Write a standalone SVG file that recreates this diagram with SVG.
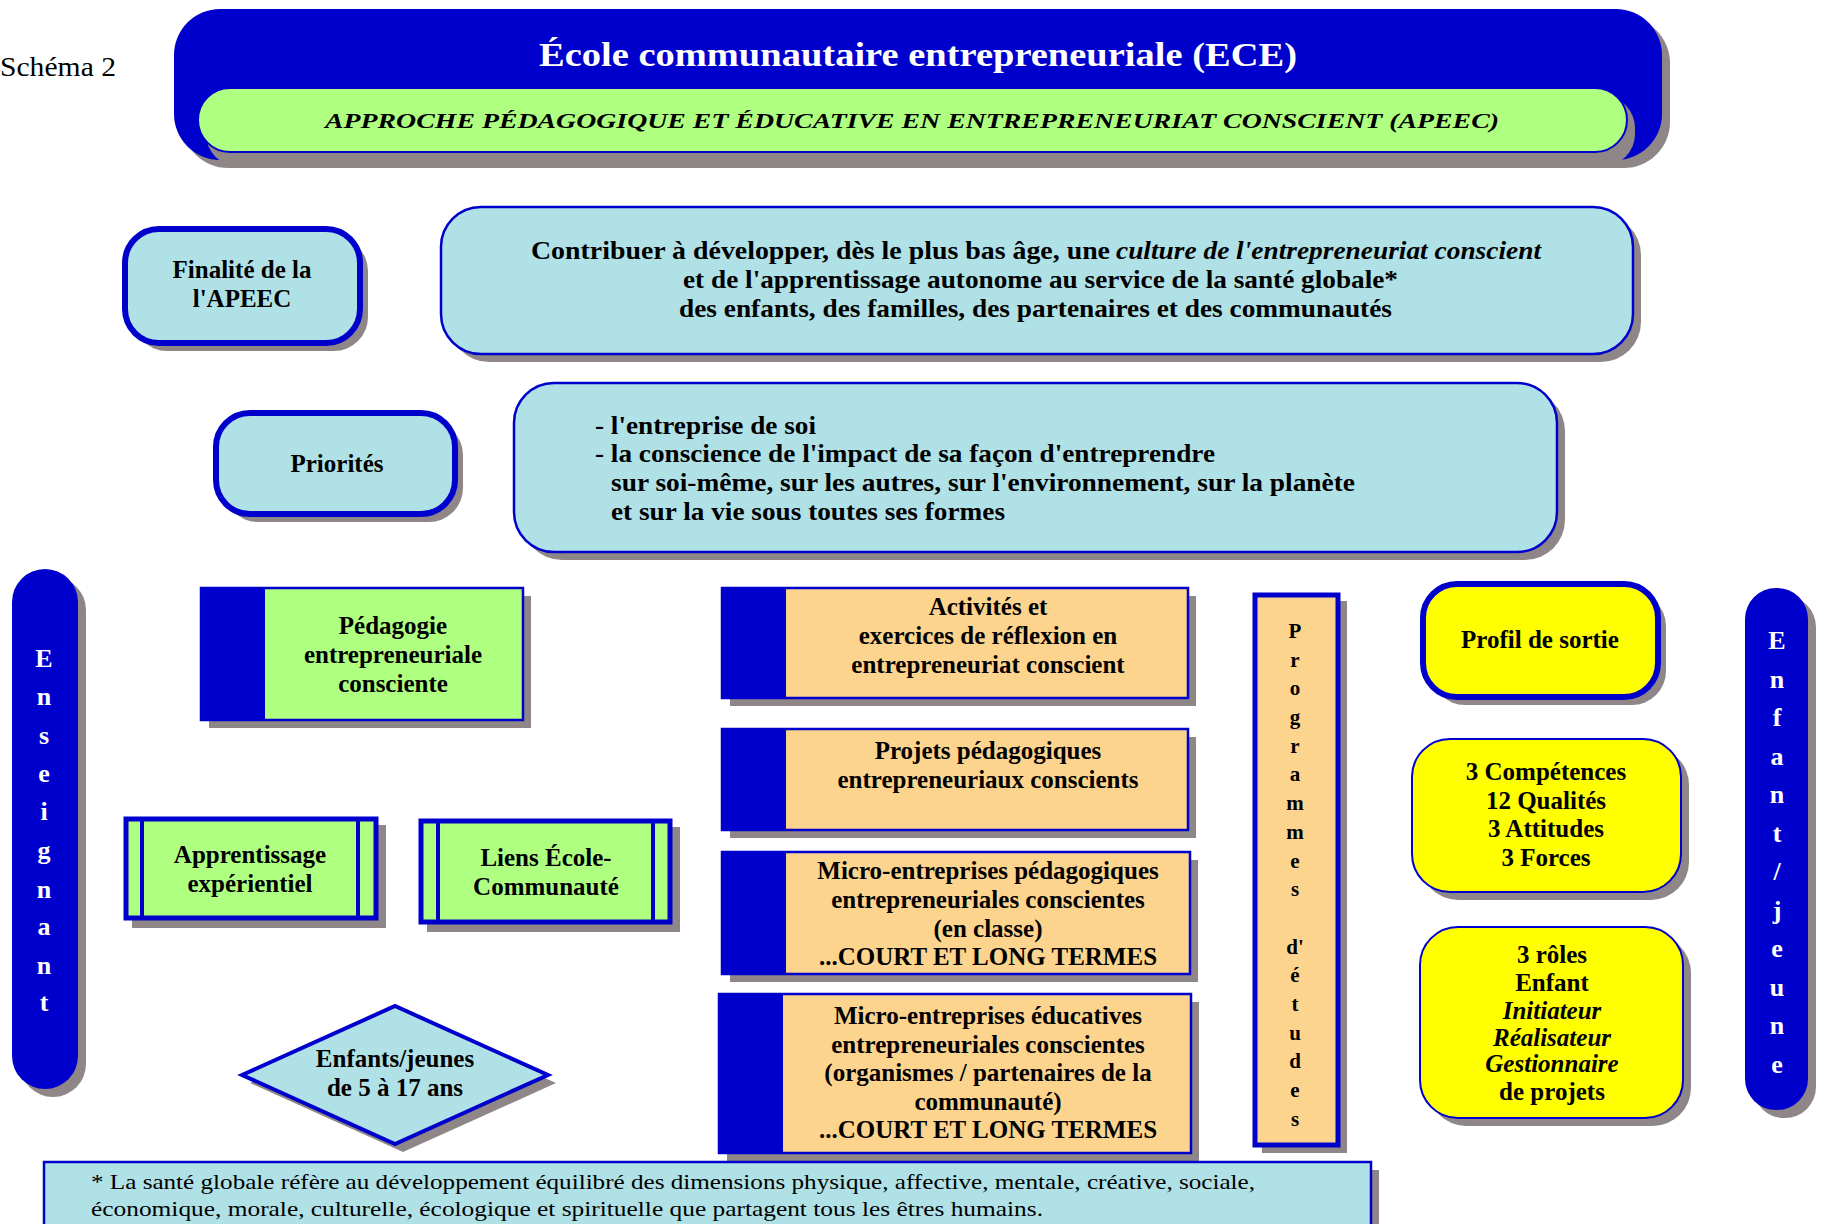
<svg xmlns="http://www.w3.org/2000/svg" width="1822" height="1224" viewBox="0 0 1822 1224">
<style>
.sh{fill:#8f8787}
.bl{fill:#0000cc}
.pb{fill:#b0e1e6;stroke:#0000cc}
.gr{fill:#afff80;stroke:#0000cc}
.pe{fill:#fdd48e;stroke:#0000cc;stroke-width:2.5}
.ye{fill:#ffff00;stroke:#0000cc}
.thick{stroke-width:6}
.thin{stroke-width:2.5}
text{font-family:"Liberation Serif",serif;font-weight:bold;font-size:25px;fill:#000}
.c{text-anchor:middle}
.w{fill:#fff}
.it{font-style:italic}
.vl{font-size:26px;fill:#fff;text-anchor:middle}
.vp{font-size:21px;text-anchor:middle}
.n{font-weight:normal;font-size:22px}
</style>
<rect width="1822" height="1224" fill="#fff"/>
<text x="0" y="76" style="font-weight:normal;font-size:28px" textLength="116" lengthAdjust="spacingAndGlyphs">Schéma 2</text>

<g id="header">
<rect class="sh" x="182" y="17" width="1488" height="151" rx="46"/>
<rect class="bl" x="174" y="9" width="1488" height="151" rx="46"/>
<rect class="sh" x="206" y="96" width="1429" height="70" rx="32"/>
<rect fill="#afff80" stroke="#0000cc" stroke-width="2" x="198" y="88" width="1429" height="64" rx="32"/>
<text class="c w" x="918" y="66" style="font-size:34px" textLength="758" lengthAdjust="spacingAndGlyphs">École communautaire entrepreneuriale (ECE)</text>
<text class="c it" x="912" y="128" style="font-size:22px" textLength="1174" lengthAdjust="spacingAndGlyphs">APPROCHE PÉDAGOGIQUE  ET ÉDUCATIVE EN ENTREPRENEURIAT  CONSCIENT (APEEC)</text>
</g>

<g id="finalite">
<rect class="sh" x="133" y="237" width="235" height="114" rx="34"/>
<rect class="pb thick" x="125" y="229" width="235" height="114" rx="34"/>
<text class="c" x="242" y="278">Finalité de la</text>
<text class="c" x="242" y="307">l'APEEC</text>
</g>

<g id="contribuer">
<rect class="sh" x="449" y="215" width="1192" height="147" rx="40"/>
<rect class="pb thin" x="441" y="207" width="1192" height="147" rx="40"/>
<text x="531" y="259" textLength="579" lengthAdjust="spacingAndGlyphs">Contribuer à développer, dès le plus bas âge, une</text>
<text class="it" x="1116" y="259" textLength="425" lengthAdjust="spacingAndGlyphs">culture de l'entrepreneuriat conscient</text>
<text x="683" y="288" textLength="715" lengthAdjust="spacingAndGlyphs">et de l'apprentissage autonome au service de la santé globale*</text>
<text x="679" y="317" textLength="713" lengthAdjust="spacingAndGlyphs">des enfants, des familles, des partenaires et des communautés</text>
</g>

<g id="priorites">
<rect class="sh" x="224" y="421" width="239" height="101" rx="34"/>
<rect class="pb thick" x="216" y="413" width="239" height="101" rx="34"/>
<text class="c" x="337" y="472">Priorités</text>
</g>

<g id="priorites-texte">
<rect class="sh" x="522" y="391" width="1043" height="169" rx="40"/>
<rect class="pb thin" x="514" y="383" width="1043" height="169" rx="40"/>
<text x="595" y="434" textLength="221" lengthAdjust="spacingAndGlyphs">- l'entreprise de soi</text>
<text x="595" y="462" textLength="620" lengthAdjust="spacingAndGlyphs">- la conscience de l'impact de sa façon d'entreprendre</text>
<text x="611" y="491" textLength="744" lengthAdjust="spacingAndGlyphs">sur soi-même, sur les autres, sur l'environnement, sur la planète</text>
<text x="611" y="520" textLength="394" lengthAdjust="spacingAndGlyphs">et sur la vie sous toutes ses formes</text>
</g>

<g id="enseignant">
<rect class="sh" x="20" y="577" width="66" height="520" rx="33"/>
<rect class="bl" x="12" y="569" width="66" height="520" rx="33"/>
<text class="vl" x="44" y="667">E</text>
<text class="vl" x="44" y="705">n</text>
<text class="vl" x="44" y="744">s</text>
<text class="vl" x="44" y="782">e</text>
<text class="vl" x="44" y="820">i</text>
<text class="vl" x="44" y="859">g</text>
<text class="vl" x="44" y="898">n</text>
<text class="vl" x="44" y="935">a</text>
<text class="vl" x="44" y="974">n</text>
<text class="vl" x="44" y="1011">t</text>
</g>

<g id="pedagogie">
<rect class="sh" x="209" y="596" width="322" height="132"/>
<rect class="gr" stroke-width="2.5" x="201" y="588" width="322" height="132"/>
<rect class="bl" x="201" y="588" width="64" height="132"/>
<text class="c" x="393" y="634">Pédagogie</text>
<text class="c" x="393" y="663">entrepreneuriale</text>
<text class="c" x="393" y="692">consciente</text>
</g>

<g id="apprentissage">
<rect class="sh" x="132" y="825" width="254" height="103"/>
<rect class="gr" stroke-width="5" x="126" y="819" width="250" height="99"/>
<line x1="142" y1="819" x2="142" y2="918" stroke="#0000cc" stroke-width="4"/>
<line x1="358" y1="819" x2="358" y2="918" stroke="#0000cc" stroke-width="4"/>
<text class="c" x="250" y="863">Apprentissage</text>
<text class="c" x="250" y="892">expérientiel</text>
</g>

<g id="liens">
<rect class="sh" x="427" y="827" width="253" height="105"/>
<rect class="gr" stroke-width="5" x="421" y="821" width="249" height="101"/>
<line x1="438" y1="821" x2="438" y2="922" stroke="#0000cc" stroke-width="4"/>
<line x1="653" y1="821" x2="653" y2="922" stroke="#0000cc" stroke-width="4"/>
<text class="c" x="546" y="866">Liens École-</text>
<text class="c" x="546" y="895">Communauté</text>
</g>

<g id="enfants-jeunes">
<polygon class="sh" points="250,1083 403,1014 556,1083 403,1152"/>
<polygon class="pb" stroke-width="4" points="242,1075 395,1006 548,1075 395,1144"/>
<text class="c" x="395" y="1067">Enfants/jeunes</text>
<text class="c" x="395" y="1096">de 5 à 17 ans</text>
</g>

<g id="activites">
<rect class="sh" x="730" y="596" width="466" height="110"/>
<rect class="pe" x="722" y="588" width="466" height="110"/>
<rect class="bl" x="722" y="588" width="64" height="110"/>
<text class="c" x="988" y="615">Activités et</text>
<text class="c" x="988" y="644">exercices de réflexion en</text>
<text class="c" x="988" y="673">entrepreneuriat conscient</text>
</g>

<g id="projets">
<rect class="sh" x="730" y="737" width="466" height="101"/>
<rect class="pe" x="722" y="729" width="466" height="101"/>
<rect class="bl" x="722" y="729" width="64" height="101"/>
<text class="c" x="988" y="759">Projets pédagogiques</text>
<text class="c" x="988" y="788">entrepreneuriaux conscients</text>
</g>

<g id="micro-pedagogiques">
<rect class="sh" x="730" y="860" width="468" height="122"/>
<rect class="pe" x="722" y="852" width="468" height="122"/>
<rect class="bl" x="722" y="852" width="64" height="122"/>
<text class="c" x="988" y="879">Micro-entreprises pédagogiques</text>
<text class="c" x="988" y="908">entrepreneuriales conscientes</text>
<text class="c" x="988" y="937">(en classe)</text>
<text class="c" x="988" y="965">...COURT ET LONG TERMES</text>
</g>

<g id="micro-educatives">
<rect class="sh" x="727" y="1002" width="472" height="159"/>
<rect class="pe" x="719" y="994" width="472" height="159"/>
<rect class="bl" x="719" y="994" width="64" height="159"/>
<text class="c" x="988" y="1024">Micro-entreprises éducatives</text>
<text class="c" x="988" y="1053">entrepreneuriales conscientes</text>
<text class="c" x="988" y="1081">(organismes / partenaires de la</text>
<text class="c" x="988" y="1110">communauté)</text>
<text class="c" x="988" y="1138">...COURT ET LONG TERMES</text>
</g>

<g id="programmes">
<rect class="sh" x="1262" y="601" width="85" height="552"/>
<rect class="pe" style="stroke-width:5" x="1255" y="595" width="83" height="550"/>
<text class="vp" x="1295" y="638">P</text>
<text class="vp" x="1295" y="667">r</text>
<text class="vp" x="1295" y="695">o</text>
<text class="vp" x="1295" y="724">g</text>
<text class="vp" x="1295" y="753">r</text>
<text class="vp" x="1295" y="781">a</text>
<text class="vp" x="1295" y="810">m</text>
<text class="vp" x="1295" y="839">m</text>
<text class="vp" x="1295" y="868">e</text>
<text class="vp" x="1295" y="896">s</text>
<text class="vp" x="1295" y="954">d'</text>
<text class="vp" x="1295" y="982">é</text>
<text class="vp" x="1295" y="1011">t</text>
<text class="vp" x="1295" y="1040">u</text>
<text class="vp" x="1295" y="1068">d</text>
<text class="vp" x="1295" y="1097">e</text>
<text class="vp" x="1295" y="1126">s</text>
</g>

<g id="profil">
<rect class="sh" x="1431" y="592" width="235" height="113" rx="34"/>
<rect class="ye thick" x="1423" y="584" width="235" height="113" rx="34"/>
<text class="c" x="1540" y="648">Profil de sortie</text>
</g>

<g id="competences">
<rect class="sh" x="1420" y="747" width="269" height="153" rx="38"/>
<rect class="ye" stroke-width="2" x="1412" y="739" width="269" height="153" rx="38"/>
<text class="c" x="1546" y="780">3 Compétences</text>
<text class="c" x="1546" y="809">12 Qualités</text>
<text class="c" x="1546" y="837">3 Attitudes</text>
<text class="c" x="1546" y="866">3 Forces</text>
</g>

<g id="roles">
<rect class="sh" x="1428" y="935" width="263" height="191" rx="38"/>
<rect class="ye" stroke-width="2" x="1420" y="927" width="263" height="191" rx="38"/>
<text class="c" x="1552" y="963">3 rôles</text>
<text class="c" x="1552" y="991">Enfant</text>
<text class="c it" x="1552" y="1019">Initiateur</text>
<text class="c it" x="1552" y="1046">Réalisateur</text>
<text class="c it" x="1552" y="1072">Gestionnaire</text>
<text class="c" x="1552" y="1100">de projets</text>
</g>

<g id="enfant-jeune">
<rect class="sh" x="1753" y="596" width="63" height="522" rx="31"/>
<rect class="bl" x="1745" y="588" width="63" height="522" rx="31"/>
<text class="vl" x="1777" y="649">E</text>
<text class="vl" x="1777" y="688">n</text>
<text class="vl" x="1777" y="726">f</text>
<text class="vl" x="1777" y="765">a</text>
<text class="vl" x="1777" y="803">n</text>
<text class="vl" x="1777" y="842">t</text>
<text class="vl" x="1777" y="880">/</text>
<text class="vl" x="1777" y="919">j</text>
<text class="vl" x="1777" y="957">e</text>
<text class="vl" x="1777" y="996">u</text>
<text class="vl" x="1777" y="1034">n</text>
<text class="vl" x="1777" y="1073">e</text>
</g>

<g id="note">
<rect class="sh" x="52" y="1170" width="1327" height="80"/>
<rect class="pb thin" x="44" y="1162" width="1327" height="80"/>
<text class="n" x="91" y="1189" textLength="1164" lengthAdjust="spacingAndGlyphs">* La santé globale réfère au développement équilibré des dimensions physique, affective, mentale, créative, sociale,</text>
<text class="n" x="91" y="1216" textLength="952" lengthAdjust="spacingAndGlyphs">économique, morale, culturelle, écologique et spirituelle que partagent tous les êtres humains.</text>
</g>

<g id="connectors"></g>
</svg>
